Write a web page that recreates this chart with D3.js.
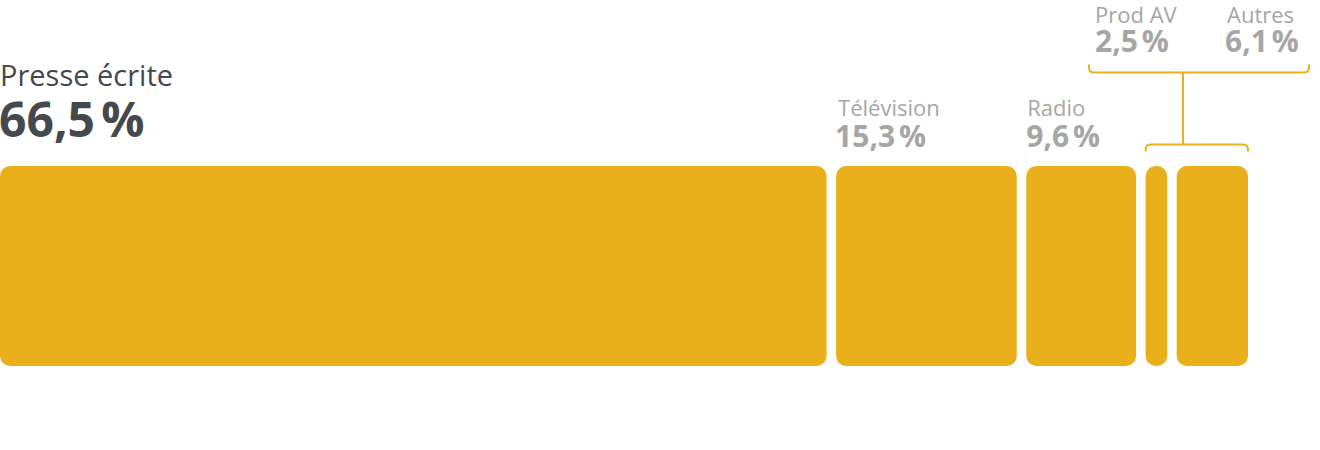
<!DOCTYPE html>
<html><head><meta charset="utf-8">
<script src="https://cdn.jsdelivr.net/npm/d3@7"></script>
<style>
html,body{margin:0;padding:0;background:#fff;}
svg{display:block;font-family:"Open Sans","Noto Sans",sans-serif;}
</style></head>
<body>
<svg id="chart" width="1320" height="450"></svg>
<script>
const categories = ["Presse écrite", "Télévision", "Radio", "Prod AV", "Autres"];
const values = [66.5, 15.3, 9.6, 2.5, 6.1];
const valueLabels = ["66,5\u202F%", "15,3\u202F%", "9,6\u202F%", "2,5\u202F%", "6,1\u202F%"];

const W = 1320, H = 450;
const gap = 9.5;
const barTop = 166, barH = 200;
const color = "#EAB01B";
const svg = d3.select("#chart");

const x = d3.scaleLinear().domain([0, 100]).range([0, 1243]);
let cum = 0;
const segs = values.map((v, i) => {
  const s = { cat: categories[i], v, lab: valueLabels[i], c0: cum, c1: cum + v, i };
  cum += v;
  return s;
});
const x0 = d => x(d.c0) + (d.i > 0 ? gap : 0);
const x1 = d => x(d.c1) + (d.i === segs.length - 1 ? 5 : 0);

svg.selectAll("rect.bar").data(segs).join("rect")
  .attr("class", "bar")
  .attr("x", x0)
  .attr("y", barTop)
  .attr("width", d => x1(d) - x0(d))
  .attr("height", barH)
  .attr("rx", 10).attr("ry", 10)
  .attr("fill", color);

// labels for the three large segments
const labelStyle = [
  { nx: 0, vx: -1, yName: 86, yVal: 137, nameSize: 29, valSize: 48, col: "#45484d" },
  { nx: 2, vx: -1, yName: 116, yVal: 147, nameSize: 22, valSize: 30, col: "#a6a6a6" },
  { nx: 1, vx: 0, yName: 116, yVal: 147, nameSize: 22, valSize: 30, col: "#a6a6a6" },
  null, null
];
segs.forEach((d, i) => {
  const p = labelStyle[i];
  if (!p) return;
  const bx = x0(d);
  svg.append("text").attr("x", bx + p.nx).attr("y", p.yName)
    .attr("font-size", p.nameSize).attr("fill", p.col).text(d.cat);
  svg.append("text").attr("x", bx + p.vx).attr("y", p.yVal)
    .attr("font-size", p.valSize).attr("font-weight", 700).attr("fill", p.col).text(d.lab);
});

// grouped small segments (Prod AV, Autres) with brackets
const small = segs.slice(3);
const gx0 = x0(small[0]), gx1 = x1(small[small.length - 1]);
const lowY = 144.5, topY = 72.5, r = 5;
const topX0 = 1089, topX1 = 1309;
const midX = 1183;
const bracket = d3.path();
bracket.moveTo(gx0, lowY + 7);
bracket.lineTo(gx0, lowY + r);
bracket.quadraticCurveTo(gx0, lowY, gx0 + r, lowY);
bracket.lineTo(gx1 - r, lowY);
bracket.quadraticCurveTo(gx1, lowY, gx1, lowY + r);
bracket.lineTo(gx1, lowY + 7);
bracket.moveTo(midX, lowY);
bracket.lineTo(midX, topY);
bracket.moveTo(topX0, topY - 8);
bracket.lineTo(topX0, topY - r);
bracket.quadraticCurveTo(topX0, topY, topX0 + r, topY);
bracket.lineTo(topX1 - r, topY);
bracket.quadraticCurveTo(topX1, topY, topX1, topY - r);
bracket.lineTo(topX1, topY - 8);
svg.append("path").attr("d", bracket.toString())
  .attr("fill", "none").attr("stroke", color).attr("stroke-width", 2);

const smallNameX = [1095, 1227];
const smallValX = [1095, 1225];
small.forEach((d, j) => {
  svg.append("text").attr("x", smallNameX[j]).attr("y", 23)
    .attr("font-size", 22).attr("fill", "#a6a6a6").text(d.cat);
  svg.append("text").attr("x", smallValX[j]).attr("y", 52)
    .attr("font-size", 30).attr("font-weight", 700).attr("fill", "#a6a6a6").text(d.lab);
});
</script>
</body></html>
